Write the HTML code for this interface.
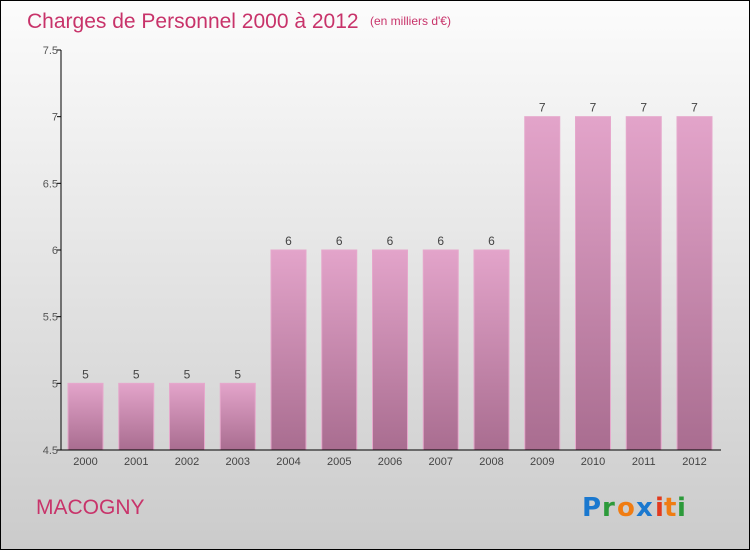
<!DOCTYPE html>
<html><head><meta charset="utf-8"><style>
body{margin:0;width:750px;height:550px;overflow:hidden;font-family:"Liberation Sans",sans-serif}
#frame{position:absolute;left:0;top:0;width:748px;height:548px;border:1px solid #000;background:linear-gradient(#fcfcfc,#cbcbcb)}
</style></head><body>
<div id="frame"></div>
<svg id="chart" width="750" height="550" style="position:absolute;left:0;top:0">
<defs><linearGradient id="bg" x1="0" y1="0" x2="0" y2="1"><stop offset="0" stop-color="#e3a4ca"/><stop offset="1" stop-color="#a96d90"/></linearGradient></defs>
<text x="27" y="28" font-size="21" fill="#c8336a">Charges de Personnel 2000 à 2012</text>
<text x="370" y="25" font-size="12" fill="#c8336a">(en milliers d'€)</text>
<text x="36" y="514" font-size="21" fill="#c8336a">MACOGNY</text>
<g font-size="26" font-weight="bold" font-family="'DejaVu Sans',sans-serif">
<text x="582" y="516" fill="#1a78cf">P</text><text x="602" y="516" fill="#2c9a3a">r</text><text x="617" y="516" fill="#f07c12">o</text><text x="636" y="516" fill="#1a78cf">x</text><text x="655" y="516" fill="#e23a1e">i</text><text x="664" y="516" fill="#f07c12">t</text><text x="677" y="516" fill="#2c9a3a">i</text>
</g>
<g id="plot"></g>
</svg>
<script>
const categories=["2000","2001","2002","2003","2004","2005","2006","2007","2008","2009","2010","2011","2012"];
const values=[5,5,5,5,6,6,6,6,6,7,7,7,7];
const yTicks=[4.5,5,5.5,6,6.5,7,7.5];
const yMin=4.5,yMax=7.5,plotTop=50,plotBottom=450,x0=61;
const ns="http://www.w3.org/2000/svg";
const g=document.getElementById('plot');
function y(v){return plotBottom-(v-yMin)/(yMax-yMin)*(plotBottom-plotTop);}
function xc(i){return 85.5+i*50.75;}
function mk(t,a){const e=document.createElementNS(ns,t);for(const k in a)e.setAttribute(k,a[k]);g.appendChild(e);return e;}
values.forEach((v,i)=>{
 const b=mk('rect',{x:xc(i)-17.5,y:y(v),width:35,height:plotBottom-y(v),fill:'url(#bg)',stroke:'#e6a8cc','stroke-width':1});
 
 
 const l=mk('text',{x:xc(i),y:y(v)-5,'text-anchor':'middle','font-size':12,fill:'#444'});l.textContent=v;
 
 
 const c=mk('text',{x:xc(i),y:465,'text-anchor':'middle','font-size':11,fill:'#444'});c.textContent=categories[i];
 
 
});
yTicks.forEach(t=>{
 mk('line',{x1:x0-4,x2:x0,y1:y(t),y2:y(t),stroke:'#000'});
 const l=mk('text',{x:x0-3,y:y(t)+4,'text-anchor':'end','font-size':11,fill:'#555'});l.textContent=t;
 
 
});
const ya=mk('line',{x1:x0,x2:x0,y1:plotTop,y2:plotBottom,stroke:'#000','stroke-width':1});


const xa=mk('line',{x1:x0,x2:721,y1:plotBottom,y2:plotBottom,stroke:'#000','stroke-width':1});


</script>
</body></html>
